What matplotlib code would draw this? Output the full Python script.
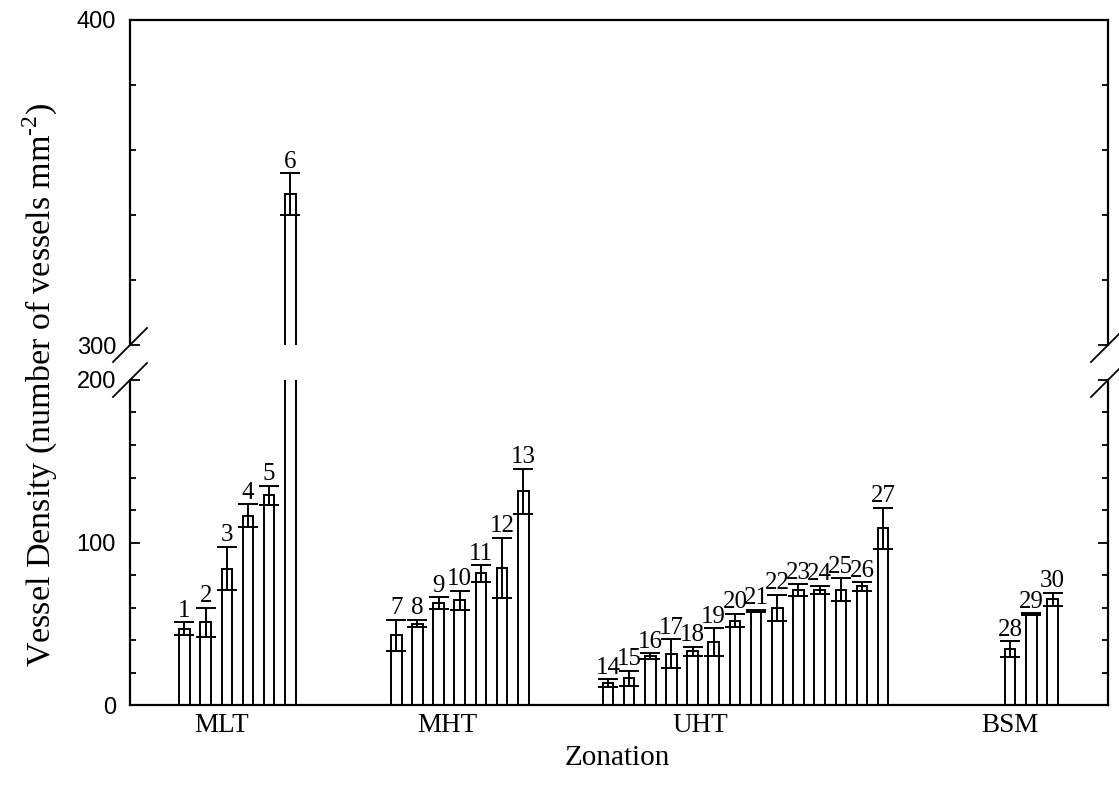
"""Vessel density per site, grouped by zonation, on a broken y axis."""

import matplotlib

matplotlib.use("Agg")

import matplotlib.pyplot as plt
import numpy as np
from matplotlib.lines import Line2D
from matplotlib.ticker import MultipleLocator

plt.rcParams["font.family"] = ["Liberation Serif", "DejaVu Serif"]
plt.rcParams["mathtext.fontset"] = "custom"
plt.rcParams["mathtext.rm"] = "Liberation Serif"

zones = ["MLT", "MHT", "UHT", "BSM"]
zone_sizes = [6, 7, 14, 3]

site_ids = list(range(1, 31))
density_mean = [
    47.0, 51.0, 84.0, 116.5, 129.0, 346.5,
    43.0, 50.0, 62.5, 64.5, 81.0, 84.5, 131.5,
    13.3, 16.5, 30.0, 31.5, 33.0, 38.5, 52.0, 57.8, 60.0, 70.8, 71.0, 71.0, 73.0, 108.7,
    34.3, 56.0, 65.0,
]
density_sd = [
    3.9, 9.0, 13.5, 7.0, 6.0, 6.4,
    9.5, 2.3, 3.7, 5.8, 5.0, 18.5, 14.0,
    2.5, 4.6, 1.8, 9.0, 3.0, 8.6, 4.0, 0.8, 8.0, 3.5, 2.4, 7.0, 2.6, 12.7,
    5.0, 0.4, 4.0,
]

# slot layout: first slot of each zone and where its name sits
group_starts = [1, 11, 21, 40]
zone_label_x = [2.77, 13.4, 25.35, 40.0]

x = np.concatenate([np.arange(s, s + n) for s, n in zip(group_starts, zone_sizes)])
mean = np.array(density_mean)
sd = np.array(density_sd)

W, H = 1119, 787
fig = plt.figure(figsize=(W / 100, H / 100), dpi=100)
left, right = 130 / W, 1108 / W
ax_hi = fig.add_axes([left, 1 - 345 / H, right - left, 325 / H])
ax_lo = fig.add_axes([left, 1 - 705 / H, right - left, 325 / H])

ax_hi.set_ylim(300, 400)
ax_lo.set_ylim(0, 200)

for ax in (ax_hi, ax_lo):
    ax.bar(x, mean, width=0.5, facecolor="white", edgecolor="black", linewidth=1.4, zorder=2)
    ax.errorbar(x, mean, yerr=sd, fmt="none", ecolor="black", elinewidth=1.4,
                capsize=7.5, capthick=1.4, zorder=3)
    ax.set_xlim(-1.574, 44.62)
    ax.yaxis.set_major_locator(MultipleLocator(100))
    ax.yaxis.set_minor_locator(MultipleLocator(20))
    ax.tick_params(axis="y", which="both", direction="in", left=True, right=True, width=1.3)
    ax.tick_params(axis="y", which="major", length=7, pad=10, labelsize=17)
    ax.tick_params(axis="y", which="minor", length=4.5)
    for lab in ax.get_yticklabels():
        lab.set_family(["Liberation Sans", "DejaVu Sans"])
    for sp in ax.spines.values():
        sp.set_linewidth(1.6)

    # site numbers above each upper cap, in the panel that holds the cap
    lo, hi = ax.get_ylim()
    for xi, m, s, sid in zip(x, mean, sd, site_ids):
        if lo <= m + s <= hi:
            ax.annotate(str(sid), (xi, m + s), xytext=(0, 4), textcoords="offset points",
                        ha="center", va="baseline", fontsize=18)

ax_hi.spines["bottom"].set_visible(False)
ax_hi.tick_params(axis="x", bottom=False, labelbottom=False)
ax_hi.set_yticks([300, 400])
ax_lo.spines["top"].set_visible(False)
ax_lo.set_yticks([0, 100, 200])
ax_lo.set_xticks(zone_label_x)
ax_lo.set_xticklabels(zones, fontsize=19.5)
ax_lo.tick_params(axis="x", length=0, pad=6)

# diagonal break marks on both spines
dx, dy = 17 / W, 17 / H
y_hi = 1 - 345 / H
y_lo = 1 - 380 / H
for xc in (left, right):
    for yc in (y_hi, y_lo):
        fig.add_artist(Line2D([xc - dx, xc + dx], [yc - dy, yc + dy],
                              transform=fig.transFigure, color="black", linewidth=1.3))

fig.text(40 / W, 1 - 385 / H, r"Vessel Density (number of vessels mm$^{\text{-2}}$)",
         rotation=90, ha="center", va="center", fontsize=24.5)
fig.text(617 / W, 1 - 758 / H, "Zonation", ha="center", va="center", fontsize=21)

fig.savefig("out.png", dpi=100)
